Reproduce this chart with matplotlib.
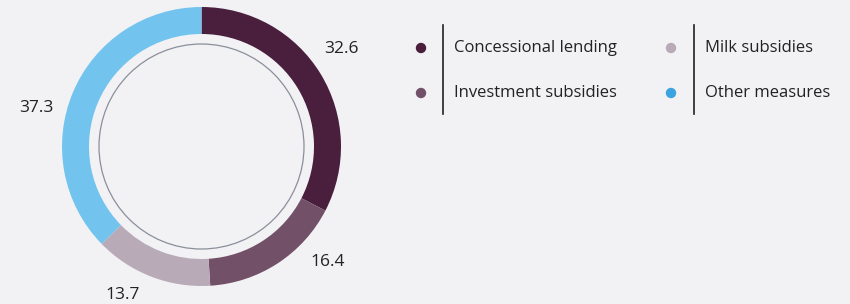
import matplotlib
matplotlib.use("Agg")
import matplotlib.pyplot as plt
from matplotlib.patches import Circle

categories = ["Concessional lending", "Investment subsidies", "Milk subsidies", "Other measures"]
values = [32.6, 16.4, 13.7, 37.3]
value_labels = ["32.6", "16.4", "13.7", "37.3"]

wedge_colors = ["#4a1f3d", "#725068", "#b9aab8", "#72c4ef"]
legend_colors = ["#4a1f3d", "#725068", "#b9aab8", "#3aa3e0"]
bg = "#f2f2f5"

plt.rcParams['font.family'] = ['Open Sans', 'DejaVu Sans']

W, H = 850, 304
fig = plt.figure(figsize=(W / 100, H / 100), dpi=100, facecolor=bg)
ax = fig.add_axes([0, 0, 1, 1])
ax.set_xlim(0, W)
ax.set_ylim(0, H)
ax.set_facecolor(bg)
ax.axis("off")

cx, cy = 201.5, H - 146.5
R = 139.5
ring = 27

ax.pie(values, colors=wedge_colors, startangle=90, counterclock=False,
       center=(cx, cy), radius=R, frame=True,
       wedgeprops=dict(width=ring, linewidth=0))
ax.set_xlim(0, W)
ax.set_ylim(0, H)
ax.set_aspect("equal")
ax.axis("off")

ax.add_patch(Circle((cx, cy), 102.5, facecolor="none", edgecolor="#8a8f99", linewidth=0.9))

# value labels (layout positions in pixel space)
label_pos = [(341, 49), (328, 262), (123, 295), (36, 108)]
for (lx, ly), t in zip(label_pos, value_labels):
    ax.text(lx, H - ly, t, ha="center", va="center", fontsize=12.5, color="#222222")

# legend
cols = [(421, 443, 454), (671, 694, 705)]
rows = [48, 93]
for i, (name, col) in enumerate(zip(categories, legend_colors)):
    dx, lx, tx = cols[i // 2]
    ry = rows[i % 2]
    ax.add_patch(Circle((dx, H - ry), 5.2, facecolor=col, edgecolor="none"))
    ax.text(tx, H - ry, name, ha="left", va="center", fontsize=12, color="#222222")
for dx, lx, tx in cols:
    ax.plot([lx, lx], [H - 25, H - 114], color="#222222", linewidth=1.2)

fig.savefig("out.png", dpi=100, facecolor=bg)
